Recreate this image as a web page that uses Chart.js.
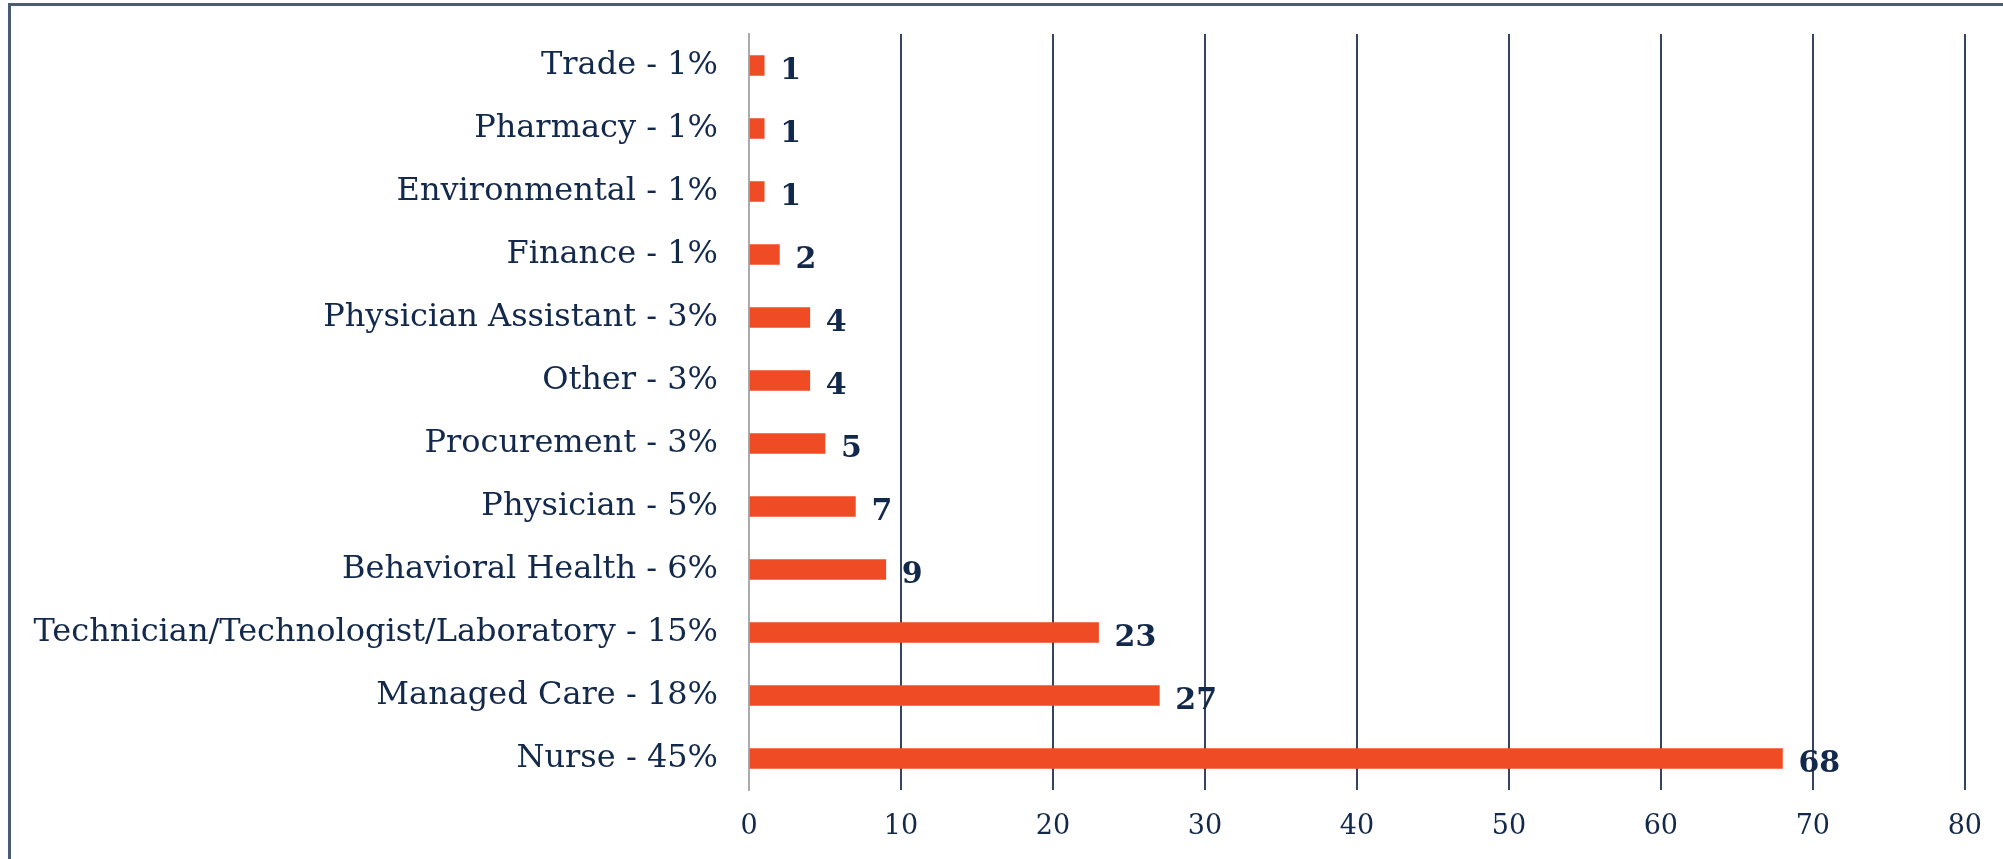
<!DOCTYPE html>
<html>
<head>
<meta charset="utf-8">
<script src="https://cdn.jsdelivr.net/npm/chart.js@4.4.0/dist/chart.umd.min.js"></script>
<style>
  html, body { margin: 0; padding: 0; background: #fff; overflow: hidden; }
  #frame {
    position: absolute; left: 8px; top: 3px;
    width: 2100px; height: 1000px;
    border: 3px solid #4a5b73;
  }
  #wrap { position: absolute; left: 0; top: 0; width: 2003px; height: 859px; }
</style>
</head>
<body>
<div id="frame"></div>
<div id="wrap"><canvas id="chart"></canvas></div>
<script>
// categories, top to bottom
const labels = [
  'Trade - 1%',
  'Pharmacy - 1%',
  'Environmental - 1%',
  'Finance - 1%',
  'Physician Assistant - 3%',
  'Other - 3%',
  'Procurement - 3%',
  'Physician - 5%',
  'Behavioral Health - 6%',
  'Technician/Technologist/Laboratory - 15%',
  'Managed Care - 18%',
  'Nurse - 45%'
];
const counts = [1, 1, 1, 2, 4, 4, 5, 7, 9, 23, 27, 68];
const xTicks = [0, 10, 20, 30, 40, 50, 60, 70, 80];

const navy = '#13294b';
const gridColor = '#34465f';

// value labels next to each bar
const valueLabels = {
  id: 'valueLabels',
  afterDatasetsDraw(chart) {
    const ctx = chart.ctx;
    const meta = chart.getDatasetMeta(0);
    ctx.save();
    ctx.font = 'bold 30px "DejaVu Serif"';
    ctx.fillStyle = navy;
    ctx.textAlign = 'left';
    ctx.textBaseline = 'alphabetic';
    meta.data.forEach((bar, i) => {
      ctx.fillText(String(counts[i]), bar.x + 16, bar.y + 13);
    });
    ctx.restore();
  }
};

new Chart(document.getElementById('chart').getContext('2d'), {
  type: 'bar',
  data: {
    labels,
    datasets: [{
      data: counts,
      backgroundColor: '#ef4b24',
      barThickness: 20,
    }],
  },
  options: {
    indexAxis: 'y',
    responsive: true,
    maintainAspectRatio: false,
    animation: false,
    layout: { padding: { top: 34, right: 37, bottom: 0, left: 0 } },
    plugins: { legend: { display: false }, tooltip: { enabled: false } },
    scales: {
      x: {
        min: 0,
        max: 80,
        afterBuildTicks: (scale) => { scale.ticks = xTicks.map(v => ({ value: v })); },
        afterFit: (scale) => { scale.height = 69; },
        grid: {
          color: (c) => (c.tick && c.tick.value === 0 ? 'rgba(0,0,0,0)' : gridColor),
          lineWidth: 2,
          drawTicks: false,
        },
        border: { display: false },
        ticks: {
          color: navy,
          padding: 21,
          font: { family: '"DejaVu Serif"', size: 27 },
        },
      },
      y: {
        afterFit: (scale) => {
          scale.width = 749;
          scale.paddingTop = 0;
          scale.paddingBottom = 0;
        },
        grid: { display: false, drawTicks: false },
        border: { color: '#a9abae', width: 2 },
        ticks: {
          color: navy,
          padding: 31,
          font: { family: '"DejaVu Serif"', size: 32 },
        },
      },
    },
  },
  plugins: [valueLabels],
});
</script>
</body>
</html>
